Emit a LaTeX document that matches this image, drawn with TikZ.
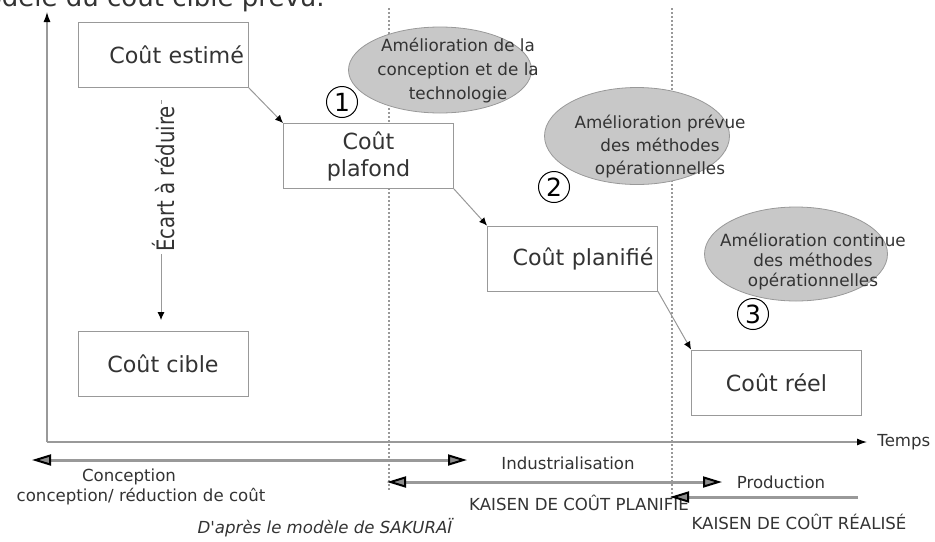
\documentclass[tikz,border=0pt]{standalone}
\usepackage{fontspec}
\setmainfont{DejaVu Sans}
\usepackage{graphicx}
\usetikzlibrary{shapes.geometric, arrows.meta, positioning}
\definecolor{txtgray}{HTML}{333333}
\definecolor{linegray}{HTML}{999999}
\definecolor{ellfill}{HTML}{C8C8C8}
\definecolor{tipgray}{HTML}{8C8C8C}
\tikzset{
  coutbox/.style={rectangle, draw=linegray, fill=white, text=txtgray,
    minimum width=85pt, minimum height=32.5pt, inner sep=0pt, align=center,
    font=\fontsize{11.1}{13.5}\selectfont},
  coutdroite/.style={coutbox, text width=81pt, align=right},
  ameli/.style={ellipse, draw=linegray, fill=ellfill, inner sep=0pt},
  amelitxt/.style={align=center, text=txtgray, inner sep=0pt,
    font=\fontsize{8.4}{12}\selectfont},
  etape/.style={circle, draw=black, line width=0.5pt, minimum size=15.5pt,
    inner sep=0pt, font=\fontsize{12.5}{12.5}\selectfont},
  lbl/.style={text=txtgray, inner sep=0pt, font=\fontsize{8.3}{10}\selectfont},
  ecarttxt/.style={rotate=90, fill=white, text=txtgray, inner sep=1pt,
    font=\fontsize{12}{14}\selectfont},
  sep/.style={draw=linegray, line width=1pt, dash pattern=on 1pt off 1pt},
  ar/.style={-{Latex[length=4pt, width=3.5pt, color=black]}, draw=linegray,
    line width=0.5pt},
  axe/.style={-{Latex[length=5pt, width=3.5pt, color=black]}, draw=linegray,
    line width=0.6pt},
  phase/.style={draw=linegray, line width=1.5pt},
  pbi/.style={phase,
    {Triangle[length=9.5pt, width=5.5pt, color=black, fill=tipgray, line width=1pt]}-{Triangle[length=9.5pt, width=5.5pt, color=black, fill=tipgray, line width=1pt]}},
  puni/.style={phase,
    -{Triangle[length=9.5pt, width=5.5pt, color=black, fill=tipgray, line width=1pt]}},
}

\begin{document}
\begin{tikzpicture}[x=0.5pt, y=-0.5pt]
  \useasboundingbox (0,0) rectangle (935,541);
  % titre (coupe en haut)
  \node[anchor=base east, inner sep=0pt, text=txtgray, font=\fontsize{13}{15}\selectfont] (titre) at (325,6) {modèle du coût cible prévu.};

  % limites des phases
  \draw[sep] (389,8) -- (389,492);
  \draw[sep] (672,8) -- (672,500);

  % axes
  \coordinate (orig) at (47,442);
  \coordinate (ytop) at (47,12);
  \node[lbl, anchor=west] (temps) at (877,442) {Temps};
  \draw[axe] (orig) -- (ytop);
  \draw[axe, shorten >=5pt] (orig) -- (temps.west);

  % couts
  \node[coutdroite] (estime) at (163,54.5)   {Coût estimé};
  \node[coutbox] (plafond)   at (368.5,156)  {Coût\\plafond};
  \node[coutdroite] (planifie) at (572.5,258.5) {Coût planifié};
  \node[coutbox] (reel)      at (776.5,382.5) {Coût réel};
  \node[coutbox] (cible)     at (163,364)    {Coût cible};

  % ecart a reduire
  \coordinate (ecart0) at (161,100);
  \draw[ar, shorten >=5.5pt] (ecart0) -- (ecart0 |- cible.north);
  \node[ecarttxt] (ecart) at (164,179) {\scalebox{0.82}[1]{Écart à réduire}};

  % ameliorations
  \node[ameli, minimum width=91.5pt, minimum height=43pt] (amel1) at (440,70) {};
  \node[amelitxt] (amel1t) at (458,70.5) {Amélioration de la\\conception et de la\\technologie};
  \node[ameli, minimum width=92.5pt, minimum height=48.5pt] (amel2) at (637,136) {};
  \node[amelitxt, font=\fontsize{8.4}{11.5}\selectfont] (amel2t) at (660,147) {Amélioration prévue\\des méthodes\\opérationnelles};
  \node[ameli, minimum width=91.5pt, minimum height=47pt] (amel3) at (796,254) {};
  \node[amelitxt, font=\fontsize{8.4}{10}\selectfont] (amel3t) at (813,262) {Amélioration continue\\des méthodes\\opérationnelles};

  \node[etape] (e1) at (342,102) {1};
  \node[etape] (e2) at (554,187) {2};
  \node[etape] (e3) at (753,314) {3};

  \draw[ar] (estime.south east) -- (plafond.north west);
  \draw[ar] (plafond.south east) -- (planifie.north west);
  \draw[ar] (planifie.south east) -- (reel.north west);

  % phases
  \coordinate (concG) at (32,460);
  \coordinate (concD) at (467,460);
  \coordinate (indG)  at (387,482);
  \coordinate (indD)  at (722,482);
  \coordinate (kaiD)  at (858,497);
  \coordinate (kaiG)  at (670,497);
  \node[lbl] (conc1) at (129,477) {Conception};
  \node[lbl] (conc2) at (141,497) {conception/ réduction de coût};
  \node[lbl] (indus) at (568,463) {Industrialisation};
  \node[lbl] (prod)  at (781,482) {Production};
  \node[lbl] (kplan) at (579,503) {KAISEN DE COÛT PLANIFIE};
  \node[lbl] (kreal) at (799,522) {KAISEN DE COÛT RÉALISÉ};
  \node[lbl, font=\fontsize{8.3}{10}\selectfont\itshape] (source) at (325,528) {D\textquotesingle après le modèle de SAKURAÏ};
  \draw[pbi] (concG) -- (concD);
  \draw[pbi] (indG) -- (indD);
  \draw[puni] (kaiD) -- (kaiG);
\end{tikzpicture}
\end{document}
